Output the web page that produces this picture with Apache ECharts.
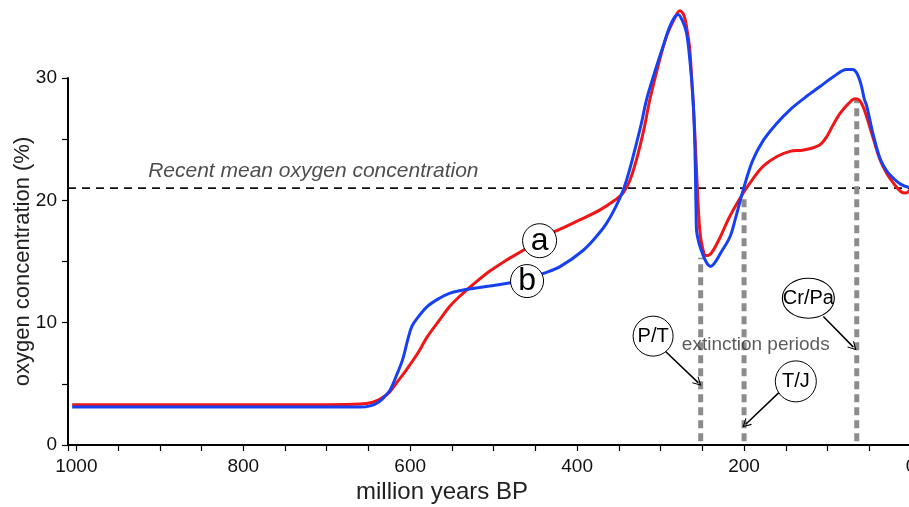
<!DOCTYPE html>
<html>
<head>
<meta charset="utf-8">
<script src="https://cdn.jsdelivr.net/npm/echarts@6/dist/echarts.min.js"></script>
<style>
  html, body { margin: 0; padding: 0; background: #fff; }
  #chart { width: 909px; height: 507px; }
</style>
</head>
<body>
<div id="chart"></div>
<script>
// Modelled atmospheric oxygen over the last billion years, two reconstructions (a, b)
var redYears = [1005, 900, 800, 700, 660, 645, 635, 625, 615, 605, 590, 580, 565, 553, 540, 525, 505, 485, 465, 445, 425, 400, 373, 355, 345, 337, 329, 320, 313, 303, 293, 283, 277, 272, 268, 265, 262, 259, 256, 253, 250, 246, 243, 238, 230, 217, 201, 190, 177, 160, 145, 130, 117, 108, 101, 93, 85, 75, 67, 62, 57, 53, 45, 37, 29, 21, 12, 6, 0];
var redO2 = [3.3, 3.3, 3.3, 3.3, 3.35, 3.5, 3.8, 4.3, 5.2, 6.1, 7.6, 8.8, 10.2, 11.3, 12.2, 13.1, 14.2, 15.1, 15.9, 16.8, 17.5, 18.3, 19.2, 20.0, 20.6, 21.6, 23.3, 25.8, 28.2, 31.0, 33.4, 34.9, 35.5, 35.1, 33.8, 32.3, 29.0, 25.5, 21.0, 17.5, 16.2, 15.5, 15.5, 15.8, 16.8, 18.7, 20.6, 21.7, 22.8, 23.6, 24.0, 24.1, 24.3, 24.6, 25.2, 26.2, 27.1, 27.9, 28.3, 28.2, 27.6, 26.8, 25.0, 23.3, 22.2, 21.4, 20.7, 20.6, 21.0];

var blueYears = [1005, 900, 800, 700, 660, 648, 638, 630, 624, 617, 609, 603, 598, 590, 580, 565, 553, 538, 525, 505, 485, 460, 441, 420, 393, 375, 365, 355, 345, 338, 331, 323, 317, 307, 297, 289, 283, 279, 274, 269, 265, 261, 259, 258, 257.5, 257, 254, 249, 244, 240, 235, 228, 217, 210, 201, 190, 177, 162, 145, 127, 109, 93, 77, 70, 65, 60, 56, 53, 45, 37, 29, 21, 12, 0];
var blueO2 = [3.1, 3.1, 3.1, 3.1, 3.1, 3.2, 3.5, 4.0, 4.5, 5.6, 7.0, 8.6, 9.7, 10.5, 11.3, 12.0, 12.4, 12.65, 12.8, 13.0, 13.2, 13.5, 14.0, 14.6, 15.9, 17.2, 18.1, 19.3, 20.8, 22.3, 24.1, 26.3, 28.2, 30.5, 32.6, 34.2, 35.0, 35.2, 34.7, 33.7, 31.5, 28.2, 24.5, 21.1, 19.0, 17.6, 16.5, 15.5, 14.8, 14.6, 14.9, 15.7, 17.0, 18.6, 20.85, 23.2, 24.9, 26.2, 27.4, 28.4, 29.3, 30.1, 30.7, 30.7, 30.4, 29.5, 28.3, 27.7, 25.3, 23.4, 22.4, 21.8, 21.3, 21.0];

// Present-day mean oxygen concentration (%)
var recentMean = 21;

// Mass extinction events: age (Myr BP) and the oxygen level where each marker stops
var extinctionNames = ['P/T', 'T/J', 'Cr/Pa'];
var extinctionAges = [252, 200, 65];
var extinctionTops = [15.3, 20.2, 28.2];

// Axis ticks
var xTickLabels = [1000, 800, 600, 400, 200, 0];
var yTickLabels = [0, 10, 20, 30];

function pairs(xs, ys) {
  return xs.map(function (x, i) { return [x, ys[i]]; });
}

var FONT = 'Liberation Sans, Arial, sans-serif';

// Annotation placement (data coordinates)
var curveTags = [
  { name: 'a', value: [445, 16.7], size: [34, 34] },
  { name: 'b', value: [460, 13.4], size: [33, 33] }
];
var eventTagPos = [[309, 8.9], [138, 5.2], [123, 12.0]];
var eventTagSize = [[40, 40], [41, 41], [52, 40]];
var eventArrows = [
  [[295, 7.7], [255, 5.1]],
  [[158, 4.3], [198, 1.7]],
  [[105, 10.5], [69, 8.0]]
];

var ellipse = 'path://M0,50 A50,50 0 1,1 100,50 A50,50 0 1,1 0,50 Z';
var openArrow = 'path://M10,0 L20,13 L18.4,14.2 L10,3.6 L1.6,14.2 L0,13 Z';

var series = [];

// Present-day mean reference line
series.push({
  type: 'line',
  data: [[1010, recentMean], [0, recentMean]],
  showSymbol: false,
  silent: true,
  clip: false,
  lineStyle: { color: '#111', width: 1.6, type: [8, 6] },
  z: 2
});

// Extinction markers
extinctionAges.forEach(function (age, i) {
  series.push({
    type: 'line',
    data: [[age, 0.3], [age, extinctionTops[i]]],
    showSymbol: false,
    silent: true,
    lineStyle: { color: '#8c8c8c', width: 5, type: [8, 5] },
    z: 3
  });
});

// Curves
series.push({
  name: 'a',
  type: 'line',
  data: pairs(redYears, redO2),
  smooth: 0.35,
  showSymbol: false,
  clip: false,
  lineStyle: { color: '#ee1616', width: 3 },
  z: 4
});
series.push({
  name: 'b',
  type: 'line',
  data: pairs(blueYears, blueO2),
  smooth: 0.35,
  showSymbol: false,
  clip: false,
  lineStyle: { color: '#1640f2', width: 3 },
  z: 5
});

// Arrows pointing at extinction markers
series.push({
  type: 'lines',
  coordinateSystem: 'cartesian2d',
  data: eventArrows.map(function (c) { return { coords: c }; }),
  symbol: ['none', openArrow],
  symbolSize: [11, 9],
  lineStyle: { color: '#000', width: 1.5, opacity: 1, curveness: 0 },
  silent: true,
  z: 6
});

// Circled curve tags
series.push({
  type: 'scatter',
  data: curveTags.map(function (t) { return { name: t.name, value: t.value, symbolSize: t.size }; }),
  symbol: 'circle',
  itemStyle: { color: '#fff', borderColor: '#000', borderWidth: 1, opacity: 1 },
  label: {
    show: true, position: 'inside', formatter: '{b}',
    color: '#000', fontSize: 32, fontFamily: FONT, padding: [0, 0, 3, 0]
  },
  emphasis: { disabled: true },
  silent: true,
  z: 7
});

// Circled event tags
series.push({
  type: 'scatter',
  data: extinctionNames.map(function (n, i) {
    return { name: n, value: eventTagPos[i], symbolSize: eventTagSize[i] };
  }),
  symbol: ellipse,
  symbolKeepAspect: false,
  itemStyle: { color: '#fff', borderColor: '#000', borderWidth: 1, opacity: 1 },
  label: {
    show: true, position: 'inside', formatter: '{b}',
    color: '#000', fontSize: 20, fontFamily: FONT
  },
  emphasis: { disabled: true },
  silent: true,
  z: 7
});

// Free text annotations
series.push({
  type: 'scatter',
  data: [
    { value: [186, 8.2], label: { formatter: 'extinction periods', align: 'center', fontSize: 19, color: '#333' } },
    { value: [914, 22.35], label: { formatter: 'Recent mean oxygen concentration', align: 'left', fontSize: 21, fontStyle: 'italic', color: '#222' } }
  ],
  symbolSize: 0,
  label: { show: true, position: 'inside', verticalAlign: 'middle', fontFamily: FONT },
  silent: true,
  z: 8
});

var chart = echarts.init(document.getElementById('chart'), null, { renderer: 'canvas' });
chart.setOption({
  animation: false,
  backgroundColor: '#fff',
  grid: { left: 68, top: 78, width: 843, height: 367, containLabel: false, outerBoundsMode: 'none' },
  xAxis: {
    type: 'value',
    inverse: true,
    min: 0,
    max: 1010,
    interval: 50,
    name: 'million years BP',
    nameLocation: 'middle',
    nameGap: 35,
    nameMoveOverlap: false,
    nameTextStyle: { fontFamily: FONT, fontSize: 24, color: '#222', padding: [0, 95, 0, 0] },
    axisLine: { onZero: false, lineStyle: { color: '#000', width: 2 } },
    axisTick: { show: true, length: 6, lineStyle: { color: '#000', width: 1.2 } },
    axisLabel: {
      showMinLabel: true, showMaxLabel: true, hideOverlap: false,
      margin: 12, fontFamily: FONT, fontSize: 19, color: '#111',
      formatter: function (v) { return xTickLabels.indexOf(v) >= 0 ? String(v) : ''; }
    },
    splitLine: { show: false }
  },
  yAxis: {
    type: 'value',
    min: 0,
    max: 30,
    interval: 10,
    name: 'oxygen concentration (%)',
    nameLocation: 'middle',
    nameGap: 34,
    nameMoveOverlap: false,
    nameTextStyle: { fontFamily: FONT, fontSize: 22, color: '#222' },
    axisLine: { show: true, onZero: false, lineStyle: { color: '#000', width: 2 } },
    axisTick: { show: true, length: 6, lineStyle: { color: '#000', width: 1.2 } },
    minorTick: { show: true, splitNumber: 2, length: 6, lineStyle: { color: '#000', width: 1.2 } },
    axisLabel: {
      margin: 11, fontFamily: FONT, fontSize: 19, color: '#111',
      formatter: function (v) { return yTickLabels.indexOf(v) >= 0 ? String(v) : ''; }
    },
    splitLine: { show: false }
  },
  series: series
});
</script>
</body>
</html>
